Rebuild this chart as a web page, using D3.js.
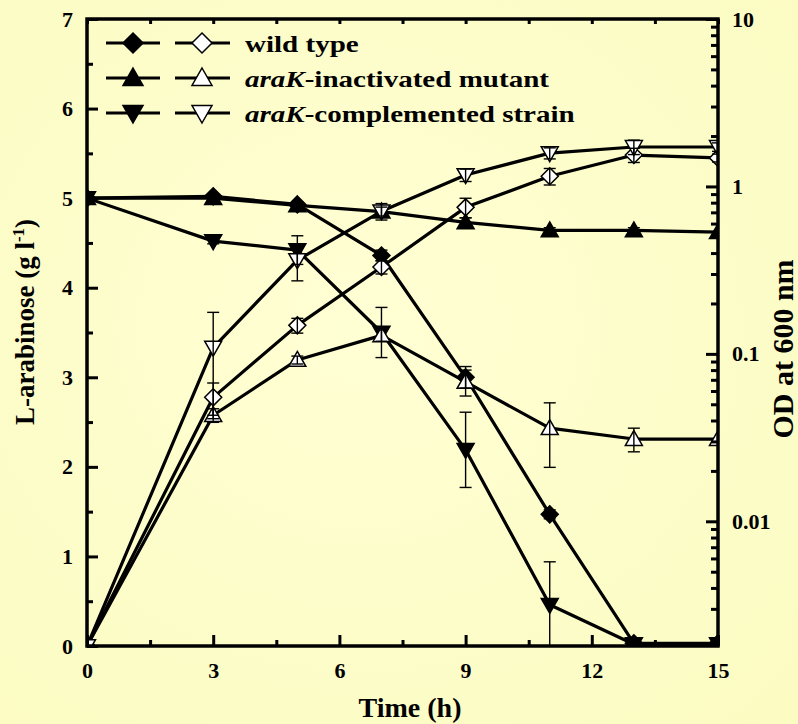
<!DOCTYPE html>
<html>
<head>
<meta charset="utf-8">
<style>
  body { margin: 0; background: #fefecb; }
  text { font-family: "Liberation Serif", "Times New Roman", serif; font-weight: bold; fill: #000; }
</style>
</head>
<body>
<div id="container"></div>
<script src="https://d3js.org/d3.v7.min.js"></script>
<script>
// sampling times (h)
const hours = [0, 3, 5, 7, 9, 11, 13, 15];

// L-arabinose (g/l) - filled symbols, left axis
const araWild = [5.0, 5.02, 4.93, 4.36, 3.0, 1.47, 0.03, 0.03];
const araMut = [5.0, 5.0, 4.92, 4.85, 4.73, 4.64, 4.64, 4.62];
const araComp = [5.0, 4.52, 4.42, 3.5, 2.19, 0.46, 0.02, 0.02];
const araWildErr = [0, 0.03, 0.03, 0.06, 0.12, 0.05, 0, 0];
const araMutErr = [0, 0.03, 0.03, 0.05, 0.05, 0.03, 0.03, 0];
const araCompErr = [0, 0.03, 0.16, 0.28, 0.42, 0.48, 0, 0];

// OD at 600 nm - open symbols, right (log) axis
const odWild = [0.0018, 0.055, 0.148, 0.33, 0.75, 1.15, 1.54, 1.48];
const odMut = [0.0018, 0.043, 0.092, 0.129, 0.068, 0.036, 0.031, 0.031];
const odComp = [0.0018, 0.109, 0.363, 0.71, 1.17, 1.58, 1.72, 1.72];
const odWildErr = [0, 0.012, 0.015, 0.03, 0.1, 0.13, 0.15, 0.08];
const odMutErr = [0, 0.004, 0.005, 0.01, 0.012, 0.015, 0.005, 0];
const odCompErr = [0, 0.068, 0.09, 0.08, 0.1, 0.12, 0.17, 0.1];

// axis ticks
const xTicks = [0, 3, 6, 9, 12, 15];
const xMinor = [1.5, 4.5, 7.5, 10.5, 13.5];
const yTicks = [0, 1, 2, 3, 4, 5, 6, 7];
const yMinor = [0.5, 1.5, 2.5, 3.5, 4.5, 5.5, 6.5];
const odTicks = [0.01, 0.1, 1, 10];
const odTickLabels = ["0.01", "0.1", "1", "10"];

const legendLabels = [
  { italic: "", rest: "wild type" },
  { italic: "araK", rest: "-inactivated mutant" },
  { italic: "araK", rest: "-complemented strain" }
];

const W = 798, H = 724;
const margin = { top: 19, right: 80, bottom: 78, left: 87 };
const width = W - margin.left - margin.right;   // 631
const height = H - margin.top - margin.bottom;  // 627

const svg = d3.select("#container").append("svg")
  .attr("width", W).attr("height", H);

const bg = svg.append("defs").append("radialGradient").attr("id", "bg")
  .attr("cx", "45%").attr("cy", "45%").attr("r", "75%");
bg.append("stop").attr("offset", "0%").attr("stop-color", "#ffffd4");
bg.append("stop").attr("offset", "100%").attr("stop-color", "#fbfbc2");
svg.append("rect").attr("width", W).attr("height", H).attr("fill", "url(#bg)");

svg.select("defs").append("clipPath").attr("id", "plotclip")
  .append("rect").attr("width", width).attr("height", height);

const g = svg.append("g").attr("transform", `translate(${margin.left},${margin.top})`);

const x = d3.scaleLinear().domain([0, 15]).range([0, width]);
const y = d3.scaleLinear().domain([0, 7]).range([height, 0]);
const yOD = d3.scaleLog().domain([0.0018, 10]).range([height, 0]);

// marker shapes
const shapes = {
  diamond: r => `M0,${-r}L${r},0L0,${r}L${-r},0Z`,
  up: r => `M0,${-r}L${r},${r * 0.75}L${-r},${r * 0.75}Z`,
  down: r => `M0,${r}L${r},${-r * 0.75}L${-r},${-r * 0.75}Z`
};

const series = [
  { vals: araWild, err: araWildErr, scale: y, shape: "diamond", fill: "#000" },
  { vals: araMut, err: araMutErr, scale: y, shape: "up", fill: "#000" },
  { vals: araComp, err: araCompErr, scale: y, shape: "down", fill: "#000" },
  { vals: odWild, err: odWildErr, scale: yOD, shape: "diamond", fill: "#fff" },
  { vals: odMut, err: odMutErr, scale: yOD, shape: "up", fill: "#fff" },
  { vals: odComp, err: odCompErr, scale: yOD, shape: "down", fill: "#fff" }
];

const plot = g.append("g").attr("clip-path", "url(#plotclip)");

series.forEach(s => {
  const pts = hours.map((h, i) => ({ h, v: s.vals[i], e: s.err[i] }));
  plot.append("path")
    .datum(pts)
    .attr("fill", "none")
    .attr("stroke", "#000")
    .attr("stroke-width", 3.2)
    .attr("stroke-linejoin", "round")
    .attr("d", d3.line().x(d => x(d.h)).y(d => s.scale(d.v)));
});

series.forEach(s => {
  const pts = hours.map((h, i) => ({ h, v: s.vals[i], e: s.err[i] }));
  plot.append("g").selectAll("path")
    .data(pts)
    .join("path")
    .attr("transform", d => `translate(${x(d.h)},${s.scale(d.v)})`)
    .attr("d", shapes[s.shape](8.5))
    .attr("fill", s.fill)
    .attr("stroke", "#000")
    .attr("stroke-width", 1.5);
});

// error bars on top
series.forEach(s => {
  const pts = hours.map((h, i) => ({ h, v: s.vals[i], e: s.err[i] })).filter(d => d.e > 0);
  const eb = plot.append("g").attr("stroke", "#000").attr("stroke-width", 1.4);
  eb.selectAll("line.v").data(pts).join("line")
    .attr("x1", d => x(d.h)).attr("x2", d => x(d.h))
    .attr("y1", d => s.scale(d.v + d.e)).attr("y2", d => s.scale(Math.max(d.v - d.e, 0.0005)));
  eb.selectAll("line.t").data(pts).join("line")
    .attr("x1", d => x(d.h) - 6).attr("x2", d => x(d.h) + 6)
    .attr("y1", d => s.scale(d.v + d.e)).attr("y2", d => s.scale(d.v + d.e));
  eb.selectAll("line.b").data(pts.filter(d => d.v - d.e > s.scale.domain()[0])).join("line")
    .attr("x1", d => x(d.h) - 6).attr("x2", d => x(d.h) + 6)
    .attr("y1", d => s.scale(d.v - d.e)).attr("y2", d => s.scale(d.v - d.e));
});

// axes (ticks point inward)
const fmtAxis = sel => {
  sel.select(".domain").remove();
  sel.selectAll("line").attr("stroke", "#000").attr("stroke-width", 3);
  sel.selectAll("text").attr("font-size", 22).attr("font-family", "Liberation Serif, Times New Roman, serif")
    .attr("font-weight", "bold");
};

g.append("g").attr("transform", `translate(0,${height})`)
  .call(d3.axisBottom(x).tickValues(xTicks).tickSize(-11).tickPadding(16).tickFormat(d3.format("d")))
  .call(fmtAxis);
g.append("g").attr("transform", `translate(0,${height})`)
  .call(d3.axisBottom(x).tickValues(xMinor).tickSize(-6).tickFormat(""))
  .call(fmtAxis);
g.append("g")
  .call(d3.axisTop(x).tickValues(xTicks.concat(xMinor)).tickSize(-5).tickFormat(""))
  .call(fmtAxis);

g.append("g")
  .call(d3.axisLeft(y).tickValues(yTicks).tickSize(-11).tickPadding(14).tickFormat(d3.format("d")))
  .call(fmtAxis);
g.append("g")
  .call(d3.axisLeft(y).tickValues(yMinor).tickSize(-6).tickFormat(""))
  .call(fmtAxis);

const odMinor = [];
[0.001, 0.01, 0.1, 1].forEach(dec => {
  for (let k = 2; k <= 9; k++) {
    const v = +(dec * k).toPrecision(3);
    if (v >= 0.0018) odMinor.push(v);
  }
});
g.append("g").attr("transform", `translate(${width},0)`)
  .call(d3.axisRight(yOD).tickValues(odTicks).tickSize(-12).tickPadding(14)
    .tickFormat((d, i) => odTickLabels[i]))
  .call(fmtAxis);
g.append("g").attr("transform", `translate(${width},0)`)
  .call(d3.axisRight(yOD).tickValues(odMinor).tickSize(-7).tickFormat(""))
  .call(fmtAxis);

// frame
g.append("rect").attr("width", width).attr("height", height)
  .attr("fill", "none").attr("stroke", "#000").attr("stroke-width", 3.5);

// axis titles
svg.append("text")
  .attr("x", 410).attr("y", 717)
  .attr("text-anchor", "middle").attr("font-size", 28)
  .text("Time (h)");

const yt = svg.append("text")
  .attr("transform", "translate(34,322) rotate(-90)")
  .attr("text-anchor", "middle").attr("font-size", 27);
yt.append("tspan").text("L-arabinose (g l");
yt.append("tspan").attr("font-size", 17).attr("dy", -10).text("-1");
yt.append("tspan").attr("dy", 10).text(")");

svg.append("text")
  .attr("transform", "translate(793,349) rotate(-90)")
  .attr("text-anchor", "middle").attr("font-size", 30)
  .text("OD at 600 nm");

// legend
const legend = svg.append("g");
const legShapes = ["diamond", "up", "down"];
legendLabels.forEach((lab, i) => {
  const cy = 43 + i * 35;
  const row = legend.append("g").attr("transform", `translate(0,${cy})`);
  [[106, 160, 133, "#000"], [175, 230, 202, "#fff"]].forEach(([x1, x2, cx, fill]) => {
    row.append("line").attr("x1", x1).attr("x2", x2)
      .attr("stroke", "#000").attr("stroke-width", 3);
    row.append("path").attr("transform", `translate(${cx},0)`)
      .attr("d", shapes[legShapes[i]](10))
      .attr("fill", fill).attr("stroke", "#000").attr("stroke-width", 1.5);
  });
  const t = row.append("text").attr("transform", "translate(245,9) scale(1.21,1)")
    .attr("font-size", 24);
  if (lab.italic) t.append("tspan").attr("font-style", "italic").text(lab.italic);
  t.append("tspan").text(lab.rest);
});
</script>
</body>
</html>
